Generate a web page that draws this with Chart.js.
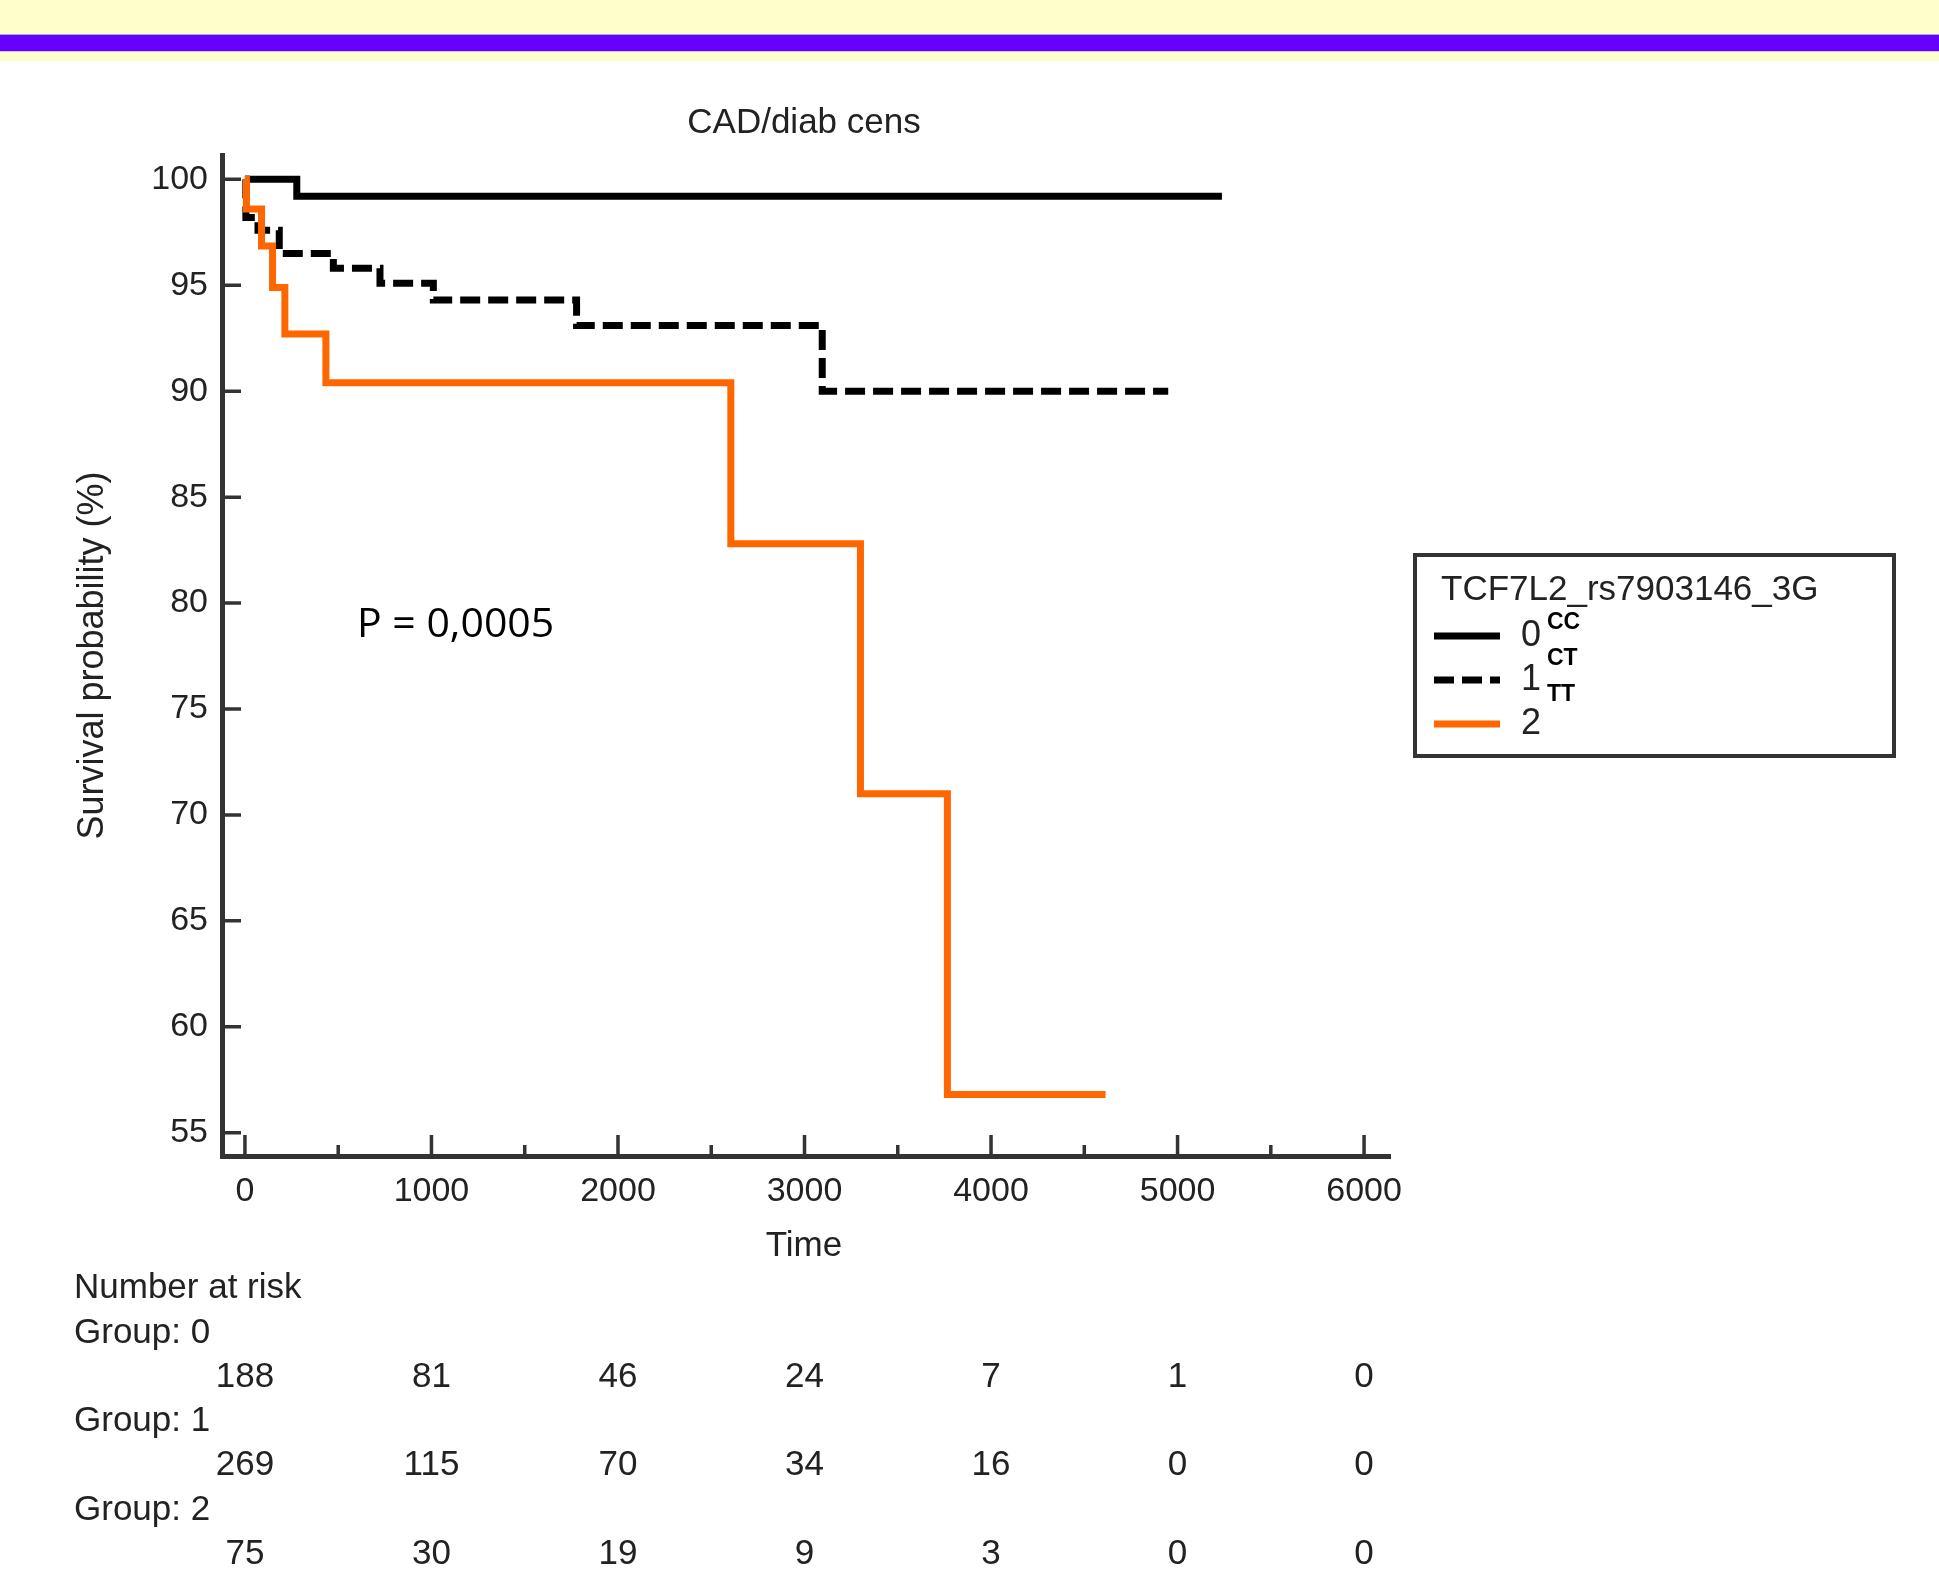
<!DOCTYPE html>
<html>
<head>
<meta charset="utf-8">
<script src="https://cdn.jsdelivr.net/npm/chart.js@4.4.1/dist/chart.umd.min.js"></script>
<style>
  html, body { margin: 0; padding: 0; background: #fff; }
  body { width: 1939px; height: 1573px; position: relative; overflow: hidden; }
  .banner { position: absolute; left: 0; top: 0; width: 1939px; height: 61px; background: #ffffcc; }
  .band { position: absolute; left: 0; top: 34px; width: 1939px; height: 16px; background: #6600ff;
          border-top: 1px solid #b8a4c8; border-bottom: 1px solid #d8c4e4; }
  #kmChart { position: absolute; left: 0; top: 0; }
</style>
</head>
<body>
<div class="banner"></div>
<div class="band"></div>
<canvas id="kmChart" width="1939" height="1573"></canvas>
<script>
// ========== DATOS ==========
const timeTicks = [0, 1000, 2000, 3000, 4000, 5000, 6000];
const minorTimeTicks = [500, 1500, 2500, 3500, 4500, 5500];
const survivalTicks = [55, 60, 65, 70, 75, 80, 85, 90, 95, 100];

const group0Time = [0, 278, 5238];
const group0Surv = [100, 99.2, 99.2];

const group1Time = [0, 5, 70, 184, 474, 724, 1010, 1778, 3095, 4950];
const group1Surv = [100, 98.2, 97.6, 96.5, 95.8, 95.1, 94.3, 93.1, 90.0, 90.0];

const group2Time = [0, 8, 89, 148, 214, 434, 2605, 3300, 3766, 4614];
const group2Surv = [100, 98.6, 96.85, 94.9, 92.7, 90.4, 82.8, 71.0, 56.8, 56.8];

const groupLabels = ["0", "1", "2"];
const genotypes = ["CC", "CT", "TT"];

const atRiskTimes = [0, 1000, 2000, 3000, 4000, 5000, 6000];
const atRisk0 = [188, 81, 46, 24, 7, 1, 0];
const atRisk1 = [269, 115, 70, 34, 16, 0, 0];
const atRisk2 = [75, 30, 19, 9, 3, 0, 0];

const FONT = '"Liberation Sans", Arial, sans-serif';
const TEXT = "#222";
const AXIS = "#333";
const ORANGE = "#ff6600";
const DASH = [20, 8];

const toPoints = (times, surv) => times.map((t, i) => ({ x: t, y: surv[i] }));

// ========== DECORACION (ticks internos, titulos, leyenda, tabla) ==========
const kmDecor = {
  id: "kmDecor",
  afterDraw(chart) {
    const { ctx, chartArea, scales } = chart;
    const xs = scales.x, ys = scales.y;
    ctx.save();

    // ticks hacia dentro
    ctx.strokeStyle = AXIS;
    ctx.lineWidth = 3.5;
    ctx.beginPath();
    survivalTicks.forEach(v => {
      const y = ys.getPixelForValue(v);
      ctx.moveTo(chartArea.left + 2, y);
      ctx.lineTo(chartArea.left + 19, y);
    });
    timeTicks.forEach(v => {
      const x = xs.getPixelForValue(v);
      ctx.moveTo(x, chartArea.bottom - 2);
      ctx.lineTo(x, chartArea.bottom - 21);
    });
    minorTimeTicks.forEach(v => {
      const x = xs.getPixelForValue(v);
      ctx.moveTo(x, chartArea.bottom - 2);
      ctx.lineTo(x, chartArea.bottom - 11);
    });
    ctx.stroke();

    const midX = (chartArea.left + chartArea.right) / 2;
    const midY = (chartArea.top + chartArea.bottom) / 2;

    // titulos
    ctx.fillStyle = TEXT;
    ctx.font = "35px " + FONT;
    ctx.textAlign = "center";
    ctx.textBaseline = "middle";
    ctx.fillText("CAD/diab cens", midX - 2, 123);
    ctx.fillText("Time", midX - 2, 1246);

    ctx.save();
    ctx.translate(93, midY);
    ctx.rotate(-Math.PI / 2);
    ctx.font = "36px " + FONT;
    ctx.fillText("Survival probability (%)", 0, 0);
    ctx.restore();

    // valor p
    ctx.fillStyle = "#000";
    ctx.font = '41px "Open Sans", "Noto Sans", sans-serif';
    ctx.textAlign = "left";
    ctx.fillText("P = 0,0005", 357, 625);

    // leyenda
    ctx.strokeStyle = AXIS;
    ctx.lineWidth = 4;
    ctx.strokeRect(1415, 555, 479, 201);

    ctx.fillStyle = TEXT;
    ctx.font = "35px " + FONT;
    ctx.fillText("TCF7L2_rs7903146_3G", 1441, 590);

    const legendY = [636, 680, 724];
    const styles = [
      { color: "#000", dash: [] },
      { color: "#000", dash: DASH },
      { color: ORANGE, dash: [] }
    ];
    groupLabels.forEach((lbl, i) => {
      ctx.strokeStyle = styles[i].color;
      ctx.setLineDash(styles[i].dash);
      ctx.lineWidth = 7;
      ctx.beginPath();
      ctx.moveTo(1434, legendY[i]);
      ctx.lineTo(1500, legendY[i]);
      ctx.stroke();
      ctx.setLineDash([]);
      ctx.fillStyle = TEXT;
      ctx.font = "36px " + FONT;
      ctx.fillText(lbl, 1521, legendY[i]);
    });

    ctx.fillStyle = "#000";
    ctx.font = 'bold 23px "Liberation Sans", Arial, sans-serif';
    const supY = [623, 659, 695];
    genotypes.forEach((g, i) => ctx.fillText(g, 1547, supY[i]));

    // numero en riesgo
    ctx.fillStyle = TEXT;
    ctx.font = "35px " + FONT;
    ctx.textAlign = "left";
    ctx.fillText("Number at risk", 74, 1288);
    const rows = [atRisk0, atRisk1, atRisk2];
    const rowY = [1333, 1421, 1510];
    rows.forEach((row, r) => {
      ctx.textAlign = "left";
      ctx.fillText("Group: " + groupLabels[r], 74, rowY[r]);
      ctx.textAlign = "center";
      row.forEach((n, i) => {
        ctx.fillText(String(n), xs.getPixelForValue(atRiskTimes[i]), rowY[r] + 44);
      });
    });

    ctx.restore();
  }
};

// ========== GRAFICO KAPLAN-MEIER ==========
const chartCanvas = document.getElementById("kmChart");
const ctx = chartCanvas.getContext("2d");

new Chart(ctx, {
  type: "line",
  data: {
    datasets: [
      {
        label: "2",
        data: toPoints(group2Time, group2Surv),
        borderColor: ORANGE,
        borderWidth: 7,
        stepped: true,
        pointRadius: 0,
        fill: false
      },
      {
        label: "1",
        data: toPoints(group1Time, group1Surv),
        borderColor: "#000",
        borderWidth: 7,
        borderDash: DASH,
        borderCapStyle: "butt",
        stepped: true,
        pointRadius: 0,
        fill: false
      },
      {
        label: "0",
        data: toPoints(group0Time, group0Surv),
        borderColor: "#000",
        borderWidth: 7,
        stepped: true,
        pointRadius: 0,
        fill: false
      }
    ]
  },
  options: {
    responsive: false,
    animation: false,
    layout: { padding: { left: 72, top: 155, right: 549, bottom: 317 } },
    plugins: {
      legend: { display: false },
      tooltip: { enabled: false },
      title: { display: false }
    },
    scales: {
      x: {
        type: "linear",
        min: -123,
        max: 6139,
        afterBuildTicks: s => { s.ticks = timeTicks.map(v => ({ value: v })); },
        afterFit: s => { s.height = 100; },
        grid: { display: false, drawTicks: false },
        border: { display: true, width: 5, color: AXIS },
        ticks: {
          color: TEXT, font: { family: FONT, size: 34 }, padding: 15, maxRotation: 0, autoSkip: false,
          callback: v => String(v)
        }
      },
      y: {
        type: "linear",
        min: 53.9,
        max: 101.15,
        afterBuildTicks: s => { s.ticks = survivalTicks.map(v => ({ value: v })); },
        afterFit: s => { s.width = 150; },
        grid: { display: false, drawTicks: false },
        border: { display: true, width: 5, color: AXIS },
        ticks: { color: TEXT, font: { family: FONT, size: 34 }, padding: 14, autoSkip: false, callback: v => String(v) }
      }
    }
  },
  plugins: [kmDecor]
});
</script>
</body>
</html>
